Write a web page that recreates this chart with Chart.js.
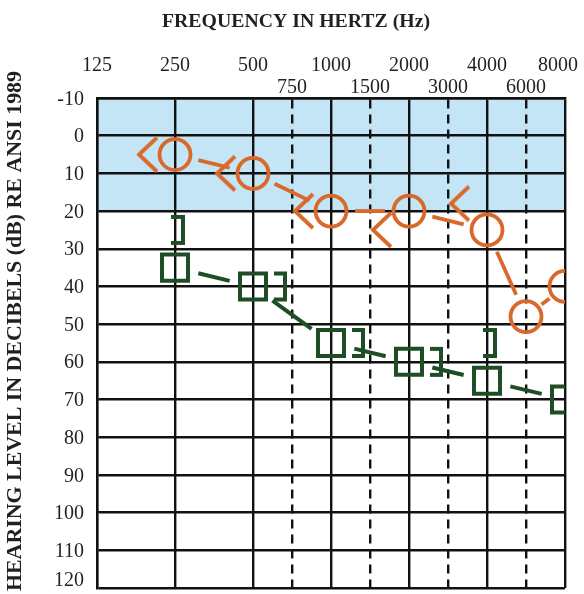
<!DOCTYPE html>
<html>
<head>
<meta charset="utf-8">
<script src="https://cdn.jsdelivr.net/npm/chart.js@4/dist/chart.umd.min.js"></script>
<style>
html,body{margin:0;padding:0;background:#fff;}
#wrap{width:584px;height:594px;}
</style>
</head>
<body>
<div id="wrap"><canvas id="c" width="584" height="594"></canvas></div>
<script>
// ---------- data ----------
const octaveFreqs = [125, 250, 500, 1000, 2000, 4000, 8000];
const halfOctaveFreqs = [750, 1500, 3000, 6000];
const dbMin = -10;
const dbMax = 120;
const dbStep = 10;
const normalLimitDb = 20;

const rightAirFreq = [250, 500, 1000, 2000, 4000, 6000, 8000];
const rightAirDb   = [5, 10, 20, 20, 25, 48, 40];
const rightBoneFreq = [250, 500, 1000, 2000, 4000];
const rightBoneDb   = [5, 10, 20, 25, 18];

const leftAirFreq = [250, 500, 1000, 2000, 4000, 8000];
const leftAirDb   = [35, 40, 55, 60, 65, 70];
const leftBoneFreq = [250, 500, 1000, 2000, 4000];
const leftBoneDb   = [25, 40, 55, 60, 55];

const titleX = 'FREQUENCY IN HERTZ (Hz)';
const titleY = 'HEARING LEVEL IN DECIBELS (dB) RE ANSI 1989';

// ---------- helpers ----------
// audiogram convention: octaves equally spaced, half-octaves midway
function freqToPos(f) {
  const k = Math.floor(Math.log2(f / 125) + 1e-9);
  const base = 125 * Math.pow(2, k);
  return k + (f / base - 1);
}
const toPts = (fs, ds) => fs.map((f, i) => ({x: freqToPos(f), y: ds[i]}));

const ORANGE = '#d8692a';
const GREEN = '#1f4d25';
const BLUE = '#c4e5f5';
const INK = '#111';
const TEXT = '#231f20';
const SERIF = '"Liberation Serif", "Times New Roman", serif';

// "<" glyph (right bone conduction), drawn left of its frequency line
function makeLess() {
  const c = document.createElement('canvas');
  c.width = 90; c.height = 44;
  const g = c.getContext('2d');
  const cx = 45, cy = 22;
  g.strokeStyle = ORANGE; g.lineWidth = 3.8; g.lineJoin = 'miter'; g.lineCap = 'butt';
  g.beginPath();
  g.moveTo(cx - 18, cy - 17);
  g.lineTo(cx - 36, cy);
  g.lineTo(cx - 18, cy + 17);
  g.stroke();
  return c;
}
// "]" glyph (left masked bone conduction)
function makeBracket(offL, offR) {
  const c = document.createElement('canvas');
  c.width = 80; c.height = 40;
  const g = c.getContext('2d');
  const cx = 40, cy = 20, lw = 4;
  g.strokeStyle = GREEN; g.lineWidth = lw; g.lineJoin = 'miter'; g.lineCap = 'butt';
  g.beginPath();
  g.moveTo(cx + offL, cy - 15 + lw / 2);
  g.lineTo(cx + offR - lw / 2, cy - 15 + lw / 2);
  g.lineTo(cx + offR - lw / 2, cy + 15 - lw / 2);
  g.lineTo(cx + offL, cy + 15 - lw / 2);
  g.stroke();
  return c;
}
const lessGlyph = makeLess();
const bracketOn = makeBracket(-4, 10);
const bracketBeside = makeBracket(21, 34);

// ---------- plugins ----------
const background = {
  id: 'background',
  beforeDraw(chart) {
    const {ctx, chartArea: a, scales: {y}} = chart;
    ctx.save();
    ctx.fillStyle = '#fff';
    ctx.fillRect(0, 0, chart.width, chart.height);
    ctx.fillStyle = BLUE;
    const y0 = y.getPixelForValue(dbMin), y1 = y.getPixelForValue(normalLimitDb);
    ctx.fillRect(a.left, y0, a.right - a.left, y1 - y0);
    ctx.restore();
  }
};

const connectors = {
  id: 'connectors',
  beforeDatasetsDraw(chart) {
    const {ctx, chartArea: a} = chart;
    ctx.save();
    ctx.beginPath();
    ctx.rect(a.left, a.top, a.right - a.left, a.bottom - a.top);
    ctx.clip();
    chart.data.datasets.forEach((ds, i) => {
      if (!ds.connect) return;
      const pts = chart.getDatasetMeta(i).data;
      ctx.strokeStyle = ds.borderColor;
      ctx.lineWidth = ds.connectWidth;
      ctx.lineCap = 'butt';
      for (let k = 0; k < pts.length - 1; k++) {
        const p = pts[k], q = pts[k + 1];
        const dx = q.x - p.x, dy = q.y - p.y;
        const len = Math.hypot(dx, dy);
        let gap = 24;
        if (len < 2 * gap + 10) gap = (len - 10) / 2;
        const ux = dx / len, uy = dy / len;
        ctx.beginPath();
        ctx.moveTo(p.x + ux * gap, p.y + uy * gap);
        ctx.lineTo(q.x - ux * gap, q.y - uy * gap);
        ctx.stroke();
      }
    });
    ctx.restore();
  }
};

const texts = {
  id: 'texts',
  afterDraw(chart) {
    const {ctx, chartArea: a, scales: {x, y}} = chart;
    ctx.save();
    ctx.fillStyle = TEXT;
    // top frequency labels
    ctx.font = '20px ' + SERIF;
    ctx.textAlign = 'center';
    ctx.textBaseline = 'alphabetic';
    const placeTop = (f, base) => {
      const s = String(f);
      const w = ctx.measureText(s).width;
      let cx = x.getPixelForValue(freqToPos(f));
      cx = Math.min(cx, chart.width - 6 - w / 2);
      ctx.fillText(s, cx, base);
    };
    octaveFreqs.forEach(f => placeTop(f, a.top - 27));
    halfOctaveFreqs.forEach(f => placeTop(f, a.top - 5));
    // left dB labels
    ctx.textAlign = 'right';
    for (let v = dbMin; v <= dbMax; v += dbStep) {
      let cy = y.getPixelForValue(v);
      cy = Math.min(cy, a.bottom - 9);
      ctx.fillText(String(v), a.left - 13, cy + 6.6);
    }
    // titles
    ctx.font = 'bold 19.8px ' + SERIF;
    ctx.textAlign = 'center';
    ctx.fillText(titleX, 296, 27);
    ctx.save();
    ctx.translate(15, 331);
    ctx.rotate(-Math.PI / 2);
    ctx.font = 'bold 21.9px ' + SERIF;
    ctx.textBaseline = 'middle';
    ctx.fillText(titleY, 0, 0);
    ctx.restore();
    ctx.restore();
  }
};

// ---------- chart ----------
new Chart(document.getElementById('c'), {
  type: 'scatter',
  data: {
    datasets: [
      {
        label: 'Right air',
        data: toPts(rightAirFreq, rightAirDb),
        connect: true, connectWidth: 3.8,
        borderColor: ORANGE, backgroundColor: 'rgba(0,0,0,0)',
        pointStyle: 'circle', pointRadius: 15.5, borderWidth: 3.8,
        showLine: false, clip: 0
      },
      {
        label: 'Right bone',
        data: toPts(rightBoneFreq, rightBoneDb),
        borderColor: ORANGE, backgroundColor: 'rgba(0,0,0,0)',
        pointStyle: lessGlyph, pointRadius: 10,
        showLine: false, clip: 0
      },
      {
        label: 'Left air (masked)',
        data: toPts(leftAirFreq, leftAirDb),
        connect: true, connectWidth: 4,
        borderColor: GREEN, backgroundColor: 'rgba(0,0,0,0)',
        pointStyle: 'rect', pointRadius: 18.4, borderWidth: 4,
        showLine: false, clip: 0
      },
      {
        label: 'Left bone (masked)',
        data: toPts(leftBoneFreq, leftBoneDb),
        borderColor: GREEN, backgroundColor: 'rgba(0,0,0,0)',
        pointStyle: (ctx) => {
          const f = leftBoneFreq[ctx.dataIndex];
          const j = leftAirFreq.indexOf(f);
          const near = j >= 0 && Math.abs(leftAirDb[j] - leftBoneDb[ctx.dataIndex]) < 8;
          return near ? bracketBeside : bracketOn;
        },
        pointRadius: 10,
        showLine: false, clip: 0
      }
    ]
  },
  options: {
    responsive: false,
    animation: false,
    devicePixelRatio: 1,
    events: [],
    layout: {autoPadding: false, padding: {left: 0, top: 0, right: 19, bottom: 6}},
    plugins: {legend: {display: false}, tooltip: {enabled: false}},
    scales: {
      x: {
        type: 'linear', position: 'top',
        min: 0, max: freqToPos(8000),
        afterBuildTicks: (s) => {
          s.ticks = octaveFreqs.concat(halfOctaveFreqs)
            .map(f => ({value: freqToPos(f)}))
            .sort((p, q) => p.value - q.value);
        },
        afterFit: (s) => { s.height = 98; },
        ticks: {display: false},
        grid: {color: INK, lineWidth: 2.4, drawTicks: false},
        border: {
          display: true, color: INK, width: 2.4,
          dash: (ctx) => (ctx.tick && ctx.tick.value % 1 !== 0) ? [9, 6] : []
        }
      },
      y: {
        type: 'linear', reverse: true,
        min: dbMin, max: dbMax,
        ticks: {display: false, stepSize: dbStep},
        afterFit: (s) => { s.width = 97; },
        grid: {color: INK, lineWidth: 2.4, drawTicks: false},
        border: {display: true, color: INK, width: 2.4}
      }
    }
  },
  plugins: [background, connectors, texts]
});
</script>
</body>
</html>
